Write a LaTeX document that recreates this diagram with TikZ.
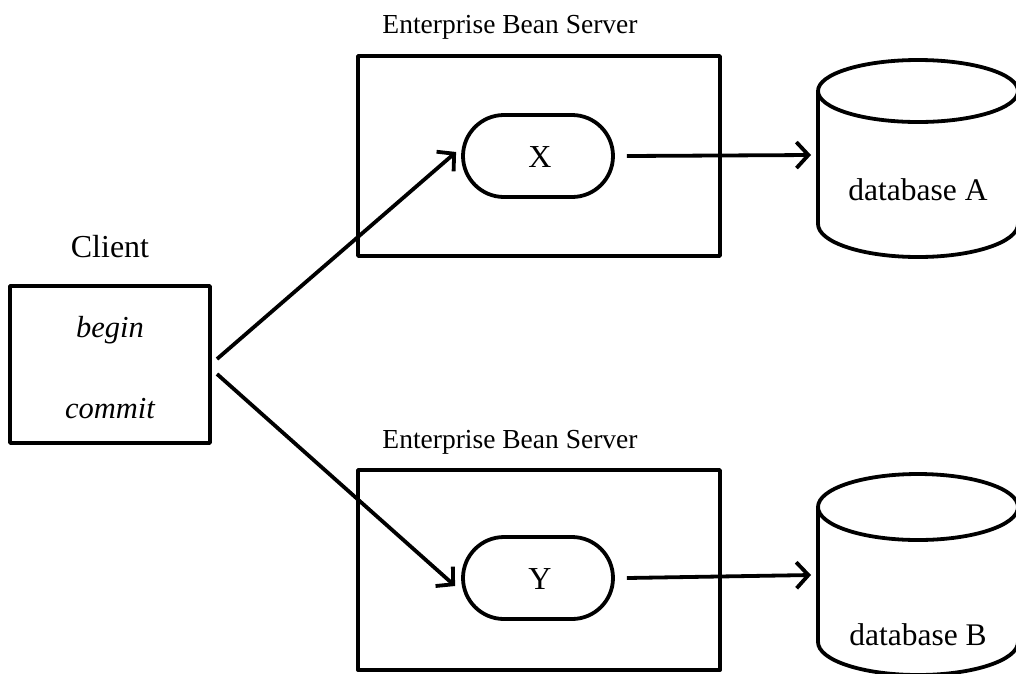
\documentclass[tikz,border=0pt]{standalone}
\usepackage{fontspec}
\setmainfont{Liberation Serif}
\usetikzlibrary{arrows.meta,shapes.misc}
\tikzset{
  every picture/.style={line width=3.8pt, line join=round},
  lbl/.style={inner sep=0pt, anchor=base},
  box/.style={draw, rectangle, inner sep=0pt},
  proc/.style={draw, rounded rectangle, minimum width=150pt, minimum height=82pt, inner sep=0pt},
  conn/.style={-{Straight Barb[length=12pt, width=26pt, line width=3.8pt]}},
  fA/.style={font=\fontsize{27.5}{30}\selectfont},
  fB/.style={font=\fontsize{32}{34}\selectfont},
  fC/.style={font=\fontsize{30.5}{33}\selectfont\itshape},
  fD/.style={font=\fontsize{31.5}{34}\selectfont},
}
\begin{document}
\begin{tikzpicture}[x=1pt, y=-1pt]
\useasboundingbox (0,0) rectangle (1016,673);
% client
\node[box, minimum width=200pt, minimum height=157pt] (client) at (110,364.5) {};
\node[lbl, fB] (clientlbl) at (110,257) {Client};
\node[lbl, fC] (begin) at (110,337) {begin};
\node[lbl, fC] (commit) at (110,418) {commit};
\coordinate (c1) at (217,359);
\coordinate (c2) at (217,374);
% servers
\node[box, minimum width=362pt, minimum height=200pt] (srvA) at (539,156) {};
\node[lbl, fA] (srvAlbl) at (510,33) {Enterprise Bean Server};
\node[box, minimum width=362pt, minimum height=200pt] (srvB) at (539,570) {};
\node[lbl, fA] (srvBlbl) at (510,448) {Enterprise Bean Server};
\node[proc] (X) at (538,156) {};
\node[lbl, fB] (Xlbl) at (540,167) {X};
\node[proc] (Y) at (538,578) {};
\node[lbl, fB] (Ylbl) at (540,589) {Y};
% database A
\draw (918,91) ellipse [x radius=100, y radius=31];
\draw (818,91) -- (818,224) arc[start angle=180, end angle=0, x radius=100, y radius=33] -- (1018,91);
\node[lbl, fD] (dbA) at (918,200) {database A};
\coordinate (dbAin) at (811,155);
% database B
\draw (918,507) ellipse [x radius=100, y radius=33];
\draw (818,507) -- (818,642) arc[start angle=180, end angle=0, x radius=100, y radius=33] -- (1018,507);
\node[lbl, fD] (dbB) at (918,645) {database B};
\coordinate (dbBin) at (811,575);
% connectors
\draw[conn] (c1) -- ([xshift=-5pt,yshift=4pt]X.west);
\draw[conn] (c2) -- ([xshift=-6pt,yshift=-8pt]Y.west);
\draw[conn] ([xshift=12pt]X.east) -- (dbAin);
\draw[conn] ([xshift=12pt]Y.east) -- (dbBin);
\end{tikzpicture}
\end{document}
